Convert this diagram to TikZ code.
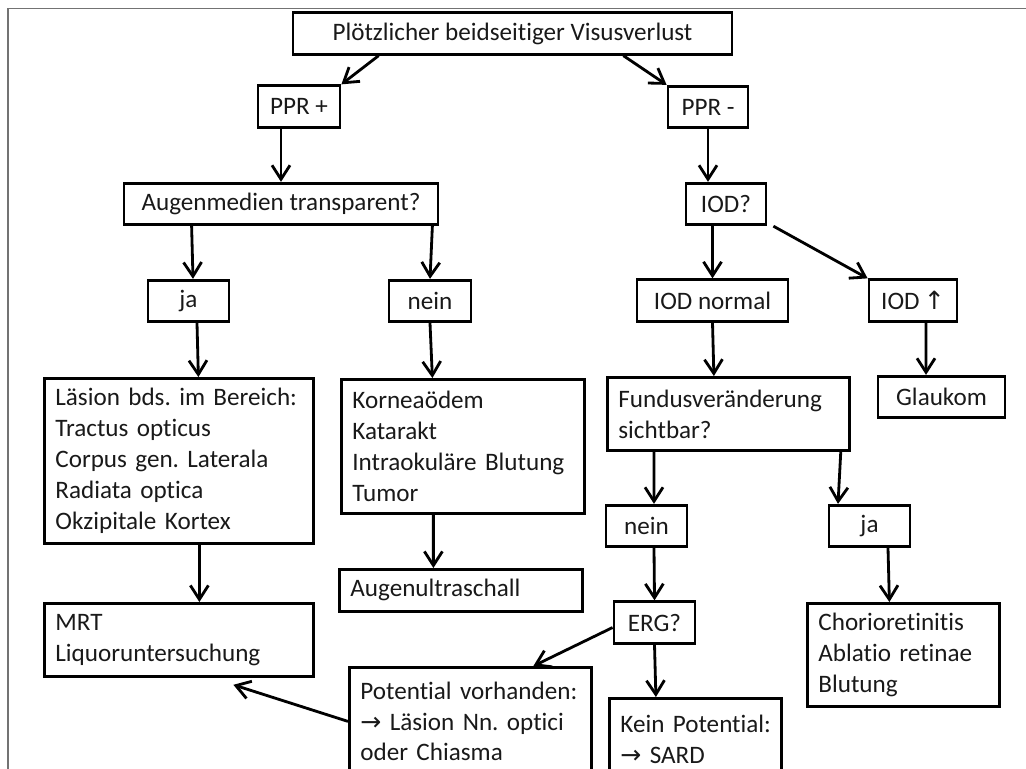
\documentclass[tikz,border=0pt]{standalone}
\usepackage{fontspec}
\setmainfont{Carlito}[Ligatures=NoCommon]
\newfontfamily\arrowfont{DejaVu Sans}
\usetikzlibrary{arrows.meta}
\newcommand\chartfont{\fontsize{14.3}{17.6}\selectfont\frenchspacing\hyphenpenalty=10000}

\begin{document}
\begin{tikzpicture}[
  x=0.02cm, y=-0.02cm,
  box/.style={rectangle,draw=black,line width=1.6pt,inner sep=0pt,minimum height=0.83cm,align=center,text=black!90,font=\chartfont},
  listbox/.style={box,anchor=north west,align=left,inner xsep=0.22cm},
  arrow/.style={-{Straight Barb[length=2.8mm,width=3.6mm]},line width=1.6pt},
  frame/.style={draw=black!55,line width=0.8pt}
]
\useasboundingbox (0,0) rectangle (1026,768);
\clip (0,0) rectangle (1026,768);
\draw[frame] (8,770) -- (8,8.5) -- (1030,8.5);

% obere Ebene
\node[box,minimum width=8.78cm] (visus) at (512.5,33.5) {Plötzlicher beidseitiger Visusverlust};
\node[box,minimum width=1.64cm] (pprplus) at (299,106.5) {PPR +};
\node[box,minimum width=1.6cm] (pprminus) at (708,107) {PPR -};
\node[box,minimum width=6.28cm] (medien) at (281,204) {Augenmedien transparent?};
\node[box,minimum width=1.6cm] (iod) at (726,204) {IOD?};

% linker Zweig
\node[box,minimum width=1.62cm] (jaL) at (188.5,301) {ja};
\node[box,minimum width=1.64cm] (neinL) at (430,301) {nein};
\node[listbox,text width=4.94cm,minimum height=3.3cm] (laesion) at (43,377) {Läsion~bds.~im~Bereich:\\Tractus opticus\\Corpus gen. Laterala\\Radiata optica\\Okzipitale Kortex};
\node[listbox,text width=4.42cm,minimum height=2.68cm] (kornea) at (340,378) {Korneaödem\\Katarakt\\Intraokuläre~Blutung\\Tumor};
\node[listbox,text width=4.94cm,minimum height=1.46cm] (mrt) at (43,602) {MRT\\Liquoruntersuchung};
\node[listbox,text width=4.42cm,minimum height=0.84cm] (ultraschall) at (338,568) {Augenultraschall};

% rechter Zweig
\node[box,minimum width=3.02cm] (iodnormal) at (712.5,300.5) {IOD normal};
\node[box,minimum width=1.76cm] (iodhoch) at (913,300.5) {IOD{\arrowfont\,↑}};
\node[box,minimum width=2.54cm] (glaukom) at (941.5,397) {Glaukom};
\node[listbox,text width=4.4cm,minimum height=1.46cm] (fundus) at (606,376) {Fundusveränderung\\sichtbar?};
\node[box,minimum width=1.62cm] (neinR) at (646.5,526) {nein};
\node[box,minimum width=1.62cm] (jaR) at (869.5,526) {ja};
\node[box,minimum width=1.62cm] (erg) at (654.5,622.5) {ERG?};
\node[listbox,text width=3.4cm,minimum height=2.06cm] (chorio) at (806,602) {Chorioretinitis\\Ablatio~retinae\\Blutung};
\node[listbox,text width=4.4cm,minimum height=2.16cm] (potential) at (348,666) {Potential~vorhanden:\\{\arrowfont →}~Läsion~Nn.~optici\\oder~Chiasma};
\node[listbox,text width=3.0cm,minimum height=1.62cm] (keinpot) at (608,697) {Kein~Potential:\\{\arrowfont →}~SARD};

% Pfeile
\draw[arrow] ([xshift=1.74cm]visus.south west) -- (pprplus.north east);
\draw[arrow] ([xshift=-2.2cm]visus.south east) -- (pprminus.north west);
\draw[arrow] (pprplus.south -| medien.north) -- (medien.north);
\draw[arrow] (pprminus.south) -- (pprminus.south |- iod.north);
\draw[arrow] ([xshift=1.38cm]medien.south west) -- ([xshift=0.09cm]jaL.north);
\draw[arrow] ([xshift=-0.14cm]medien.south east) -- (neinL.north);
\draw[arrow] ([xshift=0.17cm]jaL.south) -- ([xshift=0.39cm]laesion.north);
\draw[arrow] (neinL.south) -- ([xshift=-0.61cm]kornea.north);
\draw[arrow] ([xshift=0.41cm]laesion.south) -- ([xshift=0.41cm]mrt.north);
\draw[arrow] ([xshift=-0.59cm]kornea.south) -- ([xshift=-0.55cm]ultraschall.north);
\draw[arrow] (iod.south -| iodnormal.north) -- (iodnormal.north);
\draw[arrow] ([xshift=0.12cm]iod.south east) -- (iodhoch.north west);
\draw[arrow] ([xshift=0.26cm]iodhoch.south) -- ([xshift=-0.31cm]glaukom.north);
\draw[arrow] (iodnormal.south) -- ([xshift=-0.29cm]fundus.north);
\draw[arrow] ([xshift=0.96cm]fundus.south west) -- ([xshift=0.15cm]neinR.north);
\draw[arrow] ([xshift=-0.2cm]fundus.south east) -- ([xshift=-0.63cm]jaR.north);
\draw[arrow] ([xshift=0.15cm]neinR.south) -- (erg.north);
\draw[arrow] ([xshift=0.37cm]jaR.south) -- ([xshift=-0.28cm]chorio.north);
\draw[arrow] (erg.south) -- ([xshift=-0.79cm]keinpot.north);
\draw[arrow] ([yshift=-0.1cm]erg.west) -- ([xshift=1.26cm]potential.north);
\draw[arrow] (potential.west) -- ([xshift=1.09cm,yshift=-0.14cm]mrt.south);
\end{tikzpicture}
\end{document}
